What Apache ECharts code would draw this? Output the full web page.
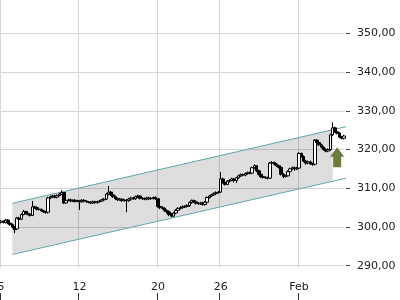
<!DOCTYPE html>
<html><head><meta charset="utf-8">
<script src="https://cdn.jsdelivr.net/npm/echarts@6/dist/echarts.min.js"></script>
<style>html,body{margin:0;padding:0;background:#fff}#c{width:400px;height:300px}</style>
</head><body><div id="c"></div>
<script>
// x tick labels and the trading day (0 = Jan 5) where each sits
const tickLabels = ['5', '12', '20', '26', 'Feb'];
const tickDays = [0, 5, 10, 14, 19];
const barsPerDay = 7;

// hourly candles, Jan 5 .. Feb 4 (7 per day)
const opens = [
  301.2,301.5,301.2,301.8,301.0,300.6,300.0,
  299.5,302.3,302.0,303.2,304.0,303.5,303.3,
  303.0,305.2,305.0,304.6,304.5,304.2,303.9,
  303.8,307.5,307.8,308.0,307.7,308.1,308.5,
  308.9,306.2,306.8,307.0,306.7,306.9,306.6,
  306.8,306.5,306.9,306.7,306.5,306.4,306.2,
  306.5,306.3,306.5,306.7,307.0,307.2,308.5,
  309.0,308.3,307.8,307.3,307.0,307.2,306.8,
  306.9,306.8,307.2,307.5,307.3,307.8,308.0,
  307.4,307.3,307.2,307.5,307.3,307.4,307.6,
  307.3,305.3,305.0,304.8,304.2,303.9,303.2,
  302.8,303.6,304.3,304.8,305.0,305.2,305.3,
  305.5,306.3,306.8,306.5,306.1,306.0,306.2,
  305.8,306.4,307.6,308.0,308.3,308.6,308.9,
  309.0,312.4,311.5,311.0,311.8,312.0,312.4,
  312.0,312.7,313.2,313.5,313.4,313.8,314.0,
  313.9,315.3,315.8,314.5,313.6,313.0,312.8,
  312.7,312.6,316.5,316.6,316.2,315.8,315.4,
  313.6,313.0,313.2,314.3,315.0,315.3,315.0,
  315.2,319.0,318.2,317.0,316.5,316.8,316.3,
  316.2,322.4,321.8,321.2,320.6,320.0,319.6,
  320.0,323.8,325.6,324.6,324.2,323.2,322.9
];
const closes = [
  301.5,301.2,301.8,301.0,300.6,300.0,299.3,
  302.3,302.0,303.2,304.0,303.5,303.3,303.0,
  305.2,305.0,304.6,304.5,304.2,303.9,303.8,
  307.5,307.8,308.0,307.7,308.1,308.5,308.9,
  306.2,306.8,307.0,306.7,306.9,306.6,306.8,
  306.5,306.9,306.7,306.5,306.4,306.2,306.5,
  306.3,306.5,306.7,307.0,307.2,308.5,309.0,
  308.3,307.8,307.3,307.0,307.2,306.8,306.9,
  306.8,307.2,307.5,307.3,307.8,308.0,307.4,
  307.3,307.2,307.5,307.3,307.4,307.6,307.3,
  305.3,305.0,304.8,304.2,303.9,303.2,302.8,
  303.6,304.3,304.8,305.0,305.2,305.3,305.5,
  306.3,306.8,306.5,306.1,306.0,306.2,305.8,
  306.4,307.6,308.0,308.3,308.6,308.9,309.0,
  312.4,311.5,311.0,311.8,312.0,312.4,312.0,
  312.7,313.2,313.5,313.4,313.8,314.0,313.9,
  315.3,315.8,314.5,313.6,313.0,312.8,312.7,
  312.6,316.5,316.6,316.2,315.8,315.4,313.6,
  313.0,313.2,314.3,315.0,315.3,315.0,315.2,
  319.0,318.2,317.0,316.5,316.8,316.3,316.2,
  322.4,321.8,321.2,320.6,320.0,319.6,320.0,
  323.8,325.6,324.6,324.2,323.2,322.9,323.5
];
const lows = [
  300.9,300.9,300.9,300.7,300.3,299.6,298.4,
  299.2,301.7,301.8,303.0,303.2,303.0,302.7,
  302.8,304.7,304.3,304.2,303.9,303.6,303.4,
  303.5,307.2,307.5,307.4,307.4,307.9,308.2,
  305.9,306.0,306.6,306.4,306.5,306.3,306.4,
  304.4,306.3,306.4,306.2,306.1,305.9,306.0,
  306.0,306.0,306.3,306.5,306.8,307.0,308.2,
  308.0,307.5,307.0,306.7,306.8,306.5,306.5,
  303.8,306.5,306.9,307.0,307.0,307.5,307.1,
  307.0,306.9,306.9,307.0,307.0,307.1,307.0,
  305.0,304.6,304.5,303.9,303.5,302.8,302.5,
  302.6,303.3,304.0,304.5,304.7,304.9,305.0,
  305.2,306.0,306.2,305.8,305.7,305.7,305.5,
  305.5,306.1,307.3,307.7,308.0,308.3,308.6,
  308.8,311.2,310.7,310.8,311.5,311.8,311.5,
  311.4,312.4,312.9,313.1,313.1,313.5,313.6,
  313.6,315.0,314.2,313.3,312.7,312.5,312.4,
  312.3,312.4,316.2,315.9,315.5,315.1,313.3,
  312.6,312.8,313.0,314.0,314.7,314.5,314.7,
  314.9,317.9,316.7,316.1,316.2,316.0,315.8,
  315.9,321.5,320.9,320.3,319.7,319.3,319.3,
  319.7,323.5,324.3,323.9,322.9,322.6,322.6
];
const highs = [
  301.8,301.7,302.1,302.0,301.3,300.9,300.3,
  302.6,302.6,303.5,304.4,304.2,303.8,303.6,
  306.7,305.5,305.3,304.9,304.8,304.4,304.2,
  307.8,308.1,308.3,308.3,308.4,308.8,309.5,
  309.0,307.1,307.3,307.3,307.1,307.2,307.0,
  307.0,307.2,307.1,306.9,306.7,306.6,306.8,
  306.8,306.8,307.0,307.3,307.5,308.8,310.6,
  309.3,308.6,308.1,307.6,307.5,307.4,307.2,
  307.2,307.5,307.8,307.8,308.1,308.3,308.2,
  307.7,307.6,307.8,307.8,307.7,307.9,307.9,
  307.5,305.6,305.4,305.1,304.6,304.2,303.6,
  303.9,304.6,305.1,305.4,305.6,305.6,305.9,
  306.6,307.1,307.1,306.8,306.4,306.5,306.5,
  306.7,307.9,308.3,308.6,308.9,309.2,309.3,
  314.2,312.7,311.9,312.1,312.3,312.7,312.7,
  313.0,313.5,313.8,313.8,314.1,314.3,314.3,
  315.6,316.2,316.0,314.8,313.9,313.3,313.1,
  313.0,316.8,317.0,316.9,316.5,316.1,315.6,
  313.9,313.5,314.6,315.3,315.6,315.6,315.5,
  319.3,319.2,318.5,317.3,317.1,317.1,316.6,
  322.7,322.7,322.1,321.5,320.9,320.3,320.3,
  324.1,327.0,325.9,324.9,324.5,323.5,323.8
];

// trend channel (bar index, price) and buy signal
const channelX = [5, 153.5];
const channelUpper = [306.1, 325.9];
const channelLower = [292.9, 312.6];
const channelFillEnd = 148.2;
const signalIndex = 149.5;
const signalLevel = 320.6;

const cats = opens.map(() => '');
tickDays.forEach((d, k) => { cats[d * barsPerDay] = tickLabels[k]; });
const candles = opens.map((o, i) => [o, closes[i], lows[i], highs[i]]);
const lastPrice = closes[closes.length - 1];
const fmt = v => v.toFixed(2).replace('.', ',');
const showTick = (i) => !!cats[i];
// one colour per drawn day line; the closing edge line is hidden
const lineColors = (c) => tickLabels.map(() => c).concat(['rgba(0,0,0,0)']);
const FONT = 'DejaVu Sans';

const chart = echarts.init(document.getElementById('c'), null, {renderer: 'canvas'});
chart.setOption({
  animation: false,
  backgroundColor: '#fff',
  grid: [
    {left: 0, top: 0, width: 345, height: 268, containLabel: false, outerBoundsMode: 'none'},
    {left: 0, top: 33.3, width: 345, height: 232.4, containLabel: false, outerBoundsMode: 'none'},
    {left: 0, top: 293, width: 345, height: 7, containLabel: false, outerBoundsMode: 'none'}
  ],
  xAxis: [
    {gridIndex: 0, type: 'category', data: cats, boundaryGap: true,
     axisLine: {show: false}, axisTick: {show: false}, axisLabel: {show: false},
     splitLine: {show: true, interval: showTick, lineStyle: {color: lineColors('#d6d6d6'), width: 1}}},
    {gridIndex: 1, type: 'category', data: cats, show: false},
    {gridIndex: 2, type: 'category', data: cats, position: 'top', boundaryGap: true,
     axisLine: {show: false},
     axisTick: {show: false},
     axisLabel: {show: true, interval: showTick, margin: 0, color: '#222', fontSize: 11, fontFamily: FONT},
     splitLine: {show: true, interval: showTick, lineStyle: {color: lineColors('#333'), width: 1}}}
  ],
  yAxis: [
    {gridIndex: 0, type: 'value', min: 289.41, max: 358.6, show: false},
    {gridIndex: 1, type: 'value', min: 290, max: 350, interval: 10, position: 'right', offset: 1,
     axisLine: {show: false},
     axisTick: {show: true, length: 4, lineStyle: {color: '#444'}},
     axisLabel: {margin: 11, color: '#222', fontSize: 11, fontFamily: FONT, formatter: fmt},
     splitLine: {show: true, lineStyle: {color: '#d6d6d6', width: 1}}},
    {gridIndex: 2, type: 'value', show: false}
  ],
  series: [
    {
      type: 'custom', xAxisIndex: 0, yAxisIndex: 0, silent: true, clip: false,
      data: [[0, 300]],
      renderItem: function (params, api) {
        const lineAt = (arr, t) => arr[0] + (arr[1] - arr[0]) * (t - channelX[0]) / (channelX[1] - channelX[0]);
        const u0 = api.coord([channelX[0], channelUpper[0]]);
        const u1 = api.coord([channelX[1], channelUpper[1]]);
        const l0 = api.coord([channelX[0], channelLower[0]]);
        const l1 = api.coord([channelX[1], channelLower[1]]);
        const uf = api.coord([channelFillEnd, lineAt(channelUpper, channelFillEnd)]);
        const lf = api.coord([channelFillEnd, lineAt(channelLower, channelFillEnd)]);
        const tip = api.coord([signalIndex, signalLevel]);
        const tx = tip[0], ty = tip[1];
        return {
          type: 'group',
          children: [
            {type: 'polygon', shape: {points: [u0, uf, lf, l0]}, style: {fill: 'rgba(0,0,0,0.135)'}},
            {type: 'line', shape: {x1: u0[0], y1: u0[1], x2: u1[0], y2: u1[1]}, style: {stroke: '#62a6ad', lineWidth: 1}},
            {type: 'line', shape: {x1: l0[0], y1: l0[1], x2: l1[0], y2: l1[1]}, style: {stroke: '#62a6ad', lineWidth: 1}},
            {type: 'polygon', shape: {points: [
              [tx, ty], [tx + 7, ty + 9.5], [tx + 4, ty + 9.5], [tx + 4, ty + 20],
              [tx - 4, ty + 20], [tx - 4, ty + 9.5], [tx - 7, ty + 9.5]
            ]}, style: {fill: '#6b7c3b'}}
          ]
        };
      }
    },
    {
      type: 'candlestick', xAxisIndex: 0, yAxisIndex: 0,
      data: candles, barWidth: 3,
      itemStyle: {color: '#ffffff', color0: '#000000', borderColor: '#000000', borderColor0: '#000000', borderWidth: 1},
      markLine: {
        silent: true, symbol: 'none', animation: false,
        lineStyle: {opacity: 0},
        label: {show: true, position: 'end', distance: 12, color: '#222', fontSize: 11, fontFamily: FONT,
                formatter: () => fmt(lastPrice)},
        data: [{yAxis: lastPrice}]
      }
    }
  ]
});
</script>
</body></html>
